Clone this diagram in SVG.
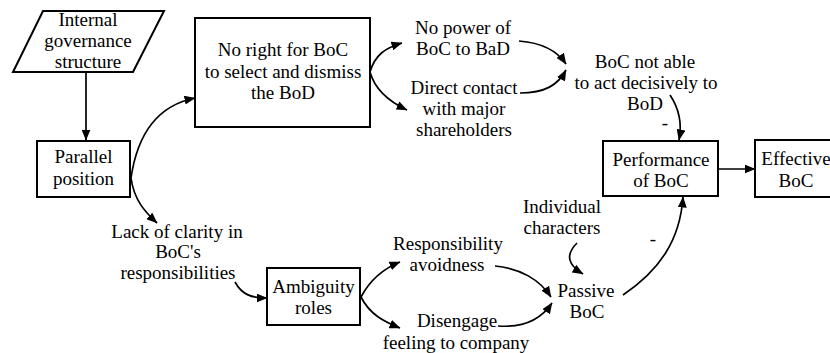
<svg xmlns="http://www.w3.org/2000/svg" width="830" height="353" viewBox="0 0 830 353">
<defs>
<marker id="ah" viewBox="0 0 11 9" refX="10.5" refY="4.5" markerWidth="11" markerHeight="9" markerUnits="userSpaceOnUse" orient="auto">
<path d="M0,0 L11,4.5 L0,9 z" fill="#000"/>
</marker>
<style>
text{font-size:19px;fill:#000;text-anchor:middle}
.box{fill:#fff;stroke:#000;stroke-width:2}
.c{fill:none;stroke:#000;stroke-width:1.7;marker-end:url(#ah)}
</style>
</defs>
<rect width="830" height="353" fill="#fff"/>
<g id="connectors">
<path class="c" d="M86,72 L86,140"/>
<path class="c" d="M131,178 C138,130 160,105 195,98"/>
<path class="c" d="M131,178 C134,200 145,212 157,223"/>
<path class="c" d="M370,72 C375,55 385,48 402,43"/>
<path class="c" d="M370,72 C375,90 390,102 407,110"/>
<path class="c" d="M519,41 C545,43 558,52 566,64"/>
<path class="c" d="M520,93 C545,93 558,85 566,70"/>
<path class="c" d="M670,95 C680,110 682,125 679,140"/>
<path class="c" d="M718,169 L755,169"/>
<path class="c" d="M235,282 C242,295 252,298 267,298"/>
<path class="c" d="M361,297 C370,280 385,268 400,262"/>
<path class="c" d="M361,297 C370,315 385,322 400,328"/>
<path class="c" d="M495,266 C520,268 540,280 551,297"/>
<path class="c" d="M498,326 C525,328 542,318 552,303"/>
<path class="c" d="M577,243 C565,255 568,265 583,274"/>
<path class="c" d="M623,295 C660,270 680,240 683,197"/>
</g>
<g font-family="Liberation Serif, Tinos, Times New Roman, Noto Serif, DejaVu Serif, serif">
<g id="internal">
<polygon class="box" points="43,11 164,11 133,72 13,72"/>
<text x="88" y="26">Internal</text>
<text x="88" y="47">governance</text>
<text x="88" y="68">structure</text>
</g>
<g id="parallel">
<rect class="box" x="37" y="141" width="93" height="56"/>
<text x="83.5" y="163">Parallel</text>
<text x="83.5" y="185">position</text>
</g>
<g id="noright">
<rect class="box" x="195" y="18" width="175" height="109"/>
<text x="283" y="56">No right for BoC</text>
<text x="283" y="78">to select and dismiss</text>
<text x="283" y="99">the BoD</text>
</g>
<g id="nopower">
<text x="463" y="34">No power of</text>
<text x="463" y="55">BoC to BaD</text>
</g>
<g id="direct">
<text x="464" y="94">Direct contact</text>
<text x="464" y="115">with major</text>
<text x="464" y="136">shareholders</text>
</g>
<g id="notable">
<text x="645" y="68">BoC not able</text>
<text x="646" y="89">to act decisively to</text>
<text x="645" y="110">BoD</text>
<text x="665" y="129">-</text>
</g>
<g id="performance">
<rect class="box" x="603" y="141" width="115" height="55"/>
<text x="661" y="166">Performance</text>
<text x="661" y="187">of BoC</text>
</g>
<g id="effective">
<rect class="box" x="755" y="140" width="82" height="57"/>
<text x="796" y="165">Effective</text>
<text x="796" y="187">BoC</text>
</g>
<g id="lack">
<text x="177" y="238">Lack of clarity in</text>
<text x="178" y="258">BoC's</text>
<text x="178" y="279">responsibilities</text>
</g>
<g id="ambiguity">
<rect class="box" x="267" y="268" width="93" height="57"/>
<text x="313.5" y="293">Ambiguity</text>
<text x="313.5" y="314">roles</text>
</g>
<g id="responsibility">
<text x="448" y="250">Responsibility</text>
<text x="447" y="271">avoidness</text>
</g>
<g id="disengage">
<text x="457" y="327">Disengage</text>
<text x="456" y="349">feeling to company</text>
</g>
<g id="individual">
<text x="562" y="213">Individual</text>
<text x="562" y="234">characters</text>
</g>
<g id="passive">
<text x="586" y="297">Passive</text>
<text x="587" y="318">BoC</text>
<text x="653" y="245">-</text>
</g>
</g>
</svg>
